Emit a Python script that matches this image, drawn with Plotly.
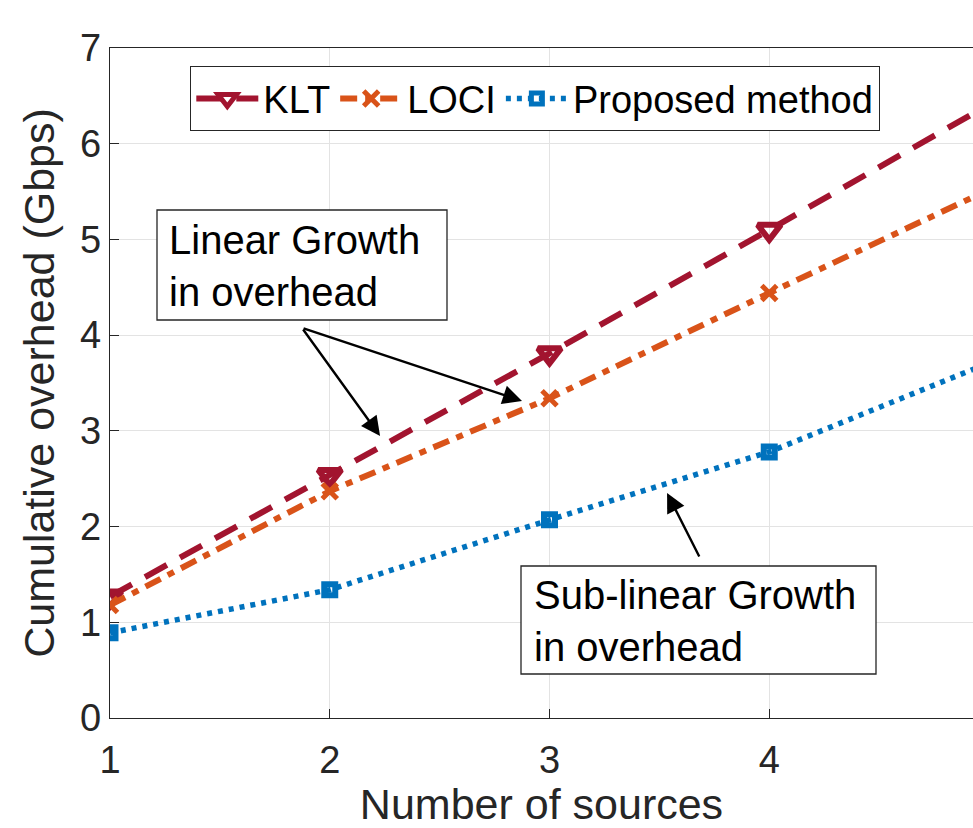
import plotly.graph_objects as go

# Number of sources on the x axis
sources = [1, 2, 3, 4, 5]

# Cumulative overhead (Gbps) per method
klt = [1.27, 2.54, 3.81, 5.10, 6.41]
loci = [1.18, 2.37, 3.34, 4.44, 5.52]
proposed = [0.89, 1.34, 2.07, 2.78, 3.71]

x_ticks = [1, 2, 3, 4, 5]
y_ticks = [0, 1, 2, 3, 4, 5, 6, 7]

FONT = "Liberation Sans, Arial, Helvetica, sans-serif"
AXIS_COLOR = "#262626"
GRID_COLOR = "#e3e3e3"

fig = go.Figure()

fig.add_trace(go.Scatter(
    x=sources, y=klt, name="KLT", mode="lines+markers",
    line=dict(color="#A2142F", width=6, dash="25px,15px"),
    marker=dict(symbol="triangle-down-open", size=20, color="#A2142F",
                line=dict(width=6, color="#A2142F")),
))
fig.add_trace(go.Scatter(
    x=sources, y=loci, name="LOCI", mode="lines+markers",
    line=dict(color="#D95319", width=6, dash="17px,8px,7px,8px"),
    marker=dict(symbol="x-thin-open", size=15, color="#D95319",
                line=dict(width=5, color="#D95319")),
))
fig.add_trace(go.Scatter(
    x=sources, y=proposed, name="Proposed method", mode="lines+markers",
    line=dict(color="#0072BD", width=5.5, dash="5px,6px"),
    marker=dict(symbol="square-open", size=11, color="#0072BD",
                line=dict(width=6, color="#0072BD")),
))

# Plot-area geometry in pixels (used to place text boxes)
L, T, B = 110, 48, 718
W, H = 973 - L, B - T


def px(xp):
    return (xp - L) / W


def py(yp):
    return (B - yp) / H


# Framed callout boxes: (left, top, right, bottom, text left, text centre y, text)
callouts = [
    (157, 210, 447, 320, 168, 266, "Linear Growth<br>in overhead"),
    (521, 566, 876, 674, 533, 621, "Sub-linear Growth<br>in overhead"),
]

shapes = []
annotations = []
for x0, y0, x1, y1, tx, ty, txt in callouts:
    shapes.append(dict(type="rect", xref="paper", yref="paper",
                       x0=px(x0), x1=px(x1), y0=py(y1), y1=py(y0),
                       line=dict(color="#262626", width=1.3),
                       fillcolor="white", layer="above"))
    annotations.append(dict(text=txt, xref="paper", yref="paper",
                            x=px(tx), y=py(ty), xanchor="left", yanchor="middle",
                            showarrow=False, align="left", borderpad=0,
                            font=dict(family=FONT, size=40, color="black")))

# Arrows: (tail x, tail y) -> (head x, head y) in data units
arrows = [
    (1.874, 4.075, 2.229, 2.946),
    (1.874, 4.075, 2.875, 3.312),
    (3.685, 1.672, 3.535, 2.351),
]
for ax, ay, hx, hy in arrows:
    annotations.append(dict(
        x=hx, y=hy, ax=ax, ay=ay, xref="x", yref="y", axref="x", ayref="y",
        text="", showarrow=True, arrowhead=2, arrowsize=1.6, arrowwidth=2.4,
        arrowcolor="black", standoff=0, startstandoff=0,
    ))

fig.update_layout(
    width=973, height=828,
    margin=dict(l=L, r=0, t=T, b=828 - B),
    paper_bgcolor="white", plot_bgcolor="white",
    font=dict(family=FONT, size=38, color=AXIS_COLOR),
    showlegend=True,
    legend=dict(
        orientation="h", x=px(190), y=py(66), xanchor="left", yanchor="top",
        bgcolor="white", bordercolor="#262626", borderwidth=1.3,
        font=dict(family=FONT, size=38, color="black"),
        itemwidth=62, tracegroupgap=0,
    ),
    shapes=shapes,
    annotations=annotations,
)

fig.update_xaxes(
    range=[1, 1 + W / 219.75], tickvals=x_ticks,
    showgrid=True, gridcolor=GRID_COLOR, gridwidth=1,
    showline=True, linecolor=AXIS_COLOR, linewidth=1.3, mirror=True,
    ticks="inside", ticklen=9, tickcolor=AXIS_COLOR, tickwidth=1.3,
    ticklabelstandoff=8,
    tickfont=dict(family=FONT, size=38, color=AXIS_COLOR),
    title=dict(text="Number of sources", standoff=16,
               font=dict(family=FONT, size=43, color=AXIS_COLOR)),
    zeroline=False,
)
fig.update_yaxes(
    range=[0, 7], tickvals=y_ticks,
    showgrid=True, gridcolor=GRID_COLOR, gridwidth=1,
    showline=True, linecolor=AXIS_COLOR, linewidth=1.3, mirror=False,
    ticks="inside", ticklen=9, tickcolor=AXIS_COLOR, tickwidth=1.3,
    tickfont=dict(family=FONT, size=38, color=AXIS_COLOR),
    title=dict(text="Cumulative overhead (Gbps)", standoff=12,
               font=dict(family=FONT, size=43, color=AXIS_COLOR)),
    zeroline=False,
)

fig.write_html("out.html")
